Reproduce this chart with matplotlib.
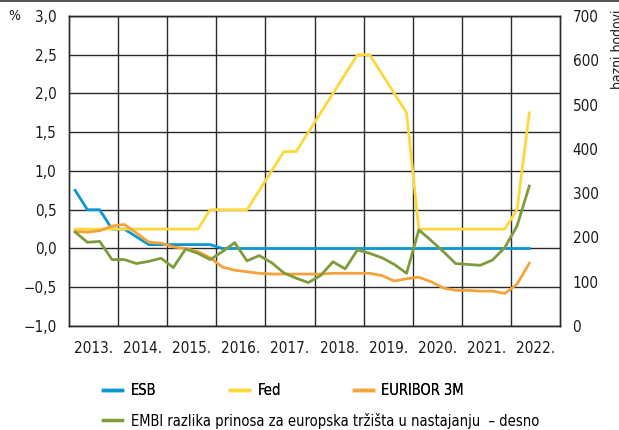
import matplotlib
matplotlib.use("Agg")
import matplotlib.pyplot as plt
from matplotlib.lines import Line2D

plt.rcParams['font.family'] = ['DejaVu Sans']
plt.rcParams['font.stretch'] = 'condensed'

# kvartalni podaci, 2013. Q1 - 2022. Q2
years = [2013, 2014, 2015, 2016, 2017, 2018, 2019, 2020, 2021, 2022]
quarters = [y + (q - 0.5) / 4 for y in years for q in range(1, 5)][:38]

esb = [0.75, 0.5, 0.5, 0.25, 0.25, 0.15, 0.05, 0.05, 0.05, 0.05, 0.05, 0.05,
       0.0, 0.0, 0.0, 0.0, 0.0, 0.0, 0.0, 0.0, 0.0, 0.0, 0.0, 0.0, 0.0, 0.0,
       0.0, 0.0, 0.0, 0.0, 0.0, 0.0, 0.0, 0.0, 0.0, 0.0, 0.0, 0.0]
fed = [0.25, 0.25, 0.25, 0.25, 0.25, 0.25, 0.25, 0.25, 0.25, 0.25, 0.25, 0.5,
       0.5, 0.5, 0.5, 0.75, 1.0, 1.25, 1.25, 1.5, 1.75, 2.0, 2.25, 2.5, 2.5,
       2.25, 2.0, 1.75, 0.25, 0.25, 0.25, 0.25, 0.25, 0.25, 0.25, 0.25, 0.5, 1.75]
euribor = [0.22, 0.21, 0.23, 0.29, 0.31, 0.20, 0.08, 0.07, 0.02, 0.00, -0.04,
           -0.12, -0.24, -0.28, -0.30, -0.32, -0.33, -0.33, -0.33, -0.33, -0.33,
           -0.32, -0.32, -0.32, -0.32, -0.35, -0.42, -0.39, -0.37, -0.43, -0.51,
           -0.54, -0.54, -0.55, -0.55, -0.58, -0.46, -0.19]
embi = [212, 189, 191, 150, 150, 141, 146, 153, 132, 174, 164, 150, 168, 188,
        147, 159, 143, 120, 108, 98, 114, 145, 129, 172, 164, 154, 139, 119,
        217, 193, 168, 141, 139, 137, 149, 177, 226, 316]

left_ticks = [-1.0, -0.5, 0.0, 0.5, 1.0, 1.5, 2.0, 2.5, 3.0]
right_ticks = [0, 100, 200, 300, 400, 500, 600, 700]

c_esb = '#0a97d4'
c_fed = '#fdd83c'
c_eur = '#f6a23a'
c_embi = '#7f9b3b'
grid_c = '#2a2a2a'

fig = plt.figure(figsize=(6.19, 4.30), dpi=100)
ax = fig.add_axes([0.1115, 0.2419, 0.7932, 0.7209])
ax2 = ax.twinx()

ax.set_xlim(2013, 2023)
ax.set_ylim(-1.0, 3.0)
ax2.set_ylim(0, 700)

for y in left_ticks:
    ax.axhline(y, color=grid_c, lw=1.0, zorder=1)
for y in range(2014, 2023):
    ax.axvline(y, color=grid_c, lw=1.0, zorder=1)

lw = 2.0
ax.plot(quarters, esb, color=c_esb, lw=lw, zorder=3)
ax.plot(quarters, fed, color=c_fed, lw=lw, zorder=3)
ax.plot(quarters, euribor, color=c_eur, lw=lw, zorder=3)
ax2.plot(quarters, embi, color=c_embi, lw=lw, zorder=3)

ax.set_yticks(left_ticks)
ax.set_yticklabels([f"{v:.1f}".replace('.', ',').replace('-', '\u2212') for v in left_ticks])
ax2.set_yticks(right_ticks)
ax2.set_yticklabels([str(v) for v in right_ticks])
ax.set_xticks([y + 0.5 for y in years])
ax.set_xticklabels([f"{y}." for y in years])

for a in (ax, ax2):
    a.tick_params(length=0, labelsize=11, colors='#1a1a1a')
    for s in a.spines.values():
        s.set_color(grid_c)
        s.set_linewidth(1.0)
ax.tick_params(axis='y', pad=9)
ax.tick_params(axis='x', pad=11)
ax2.tick_params(axis='y', pad=9)

fig.text(0.013, 0.963, '%', fontsize=10, va='center', ha='left', color='#1a1a1a')
fig.text(0.987, 0.977, 'bazni bodovi', fontsize=10, rotation=90,
         ha='left', va='top', color='#1a1a1a')

# linija na vrhu
fig.add_artist(Line2D([0, 1], [0.998, 0.998], color='#333333', lw=1.2))

handles1 = [Line2D([], [], color=c, lw=2.5) for c in (c_esb, c_fed, c_eur)]
leg1 = fig.legend(handles1, ['ESB', 'Fed', 'EURIBOR 3M'], ncol=3,
                  loc='center left', bbox_to_anchor=(0.146, 0.092),
                  frameon=False, fontsize=10.5, handlelength=1.3,
                  handletextpad=0.6, columnspacing=5.0)
leg2 = fig.legend([Line2D([], [], color=c_embi, lw=2.5)],
                  ['EMBI razlika prinosa za europska tržišta u nastajanju  \u2013 desno'],
                  loc='center left', bbox_to_anchor=(0.146, 0.022),
                  frameon=False, fontsize=10.5, handlelength=1.3, handletextpad=0.6)
fig.add_artist(leg1)

fig.savefig('out.png', dpi=100)
